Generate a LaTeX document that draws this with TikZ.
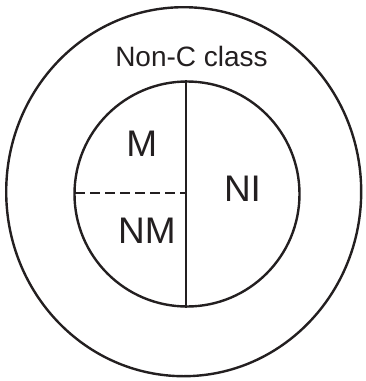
\documentclass[tikz,border=0pt]{standalone}
\usepackage{fontspec}
\setmainfont{Liberation Sans}
\usetikzlibrary{shapes.geometric}
\definecolor{ink}{HTML}{231F20}
\begin{document}
\begin{tikzpicture}[x=1pt,y=-1pt,
  ring/.style={draw=ink,line width=2.4pt},
  lbl/.style={text=ink,inner sep=0pt,anchor=center},
  big/.style={lbl,font=\fontsize{37}{37}\selectfont},
  small/.style={lbl,font=\fontsize{28}{28}\selectfont}]
\useasboundingbox (0,0) rectangle (366,381);
\node[ring,ellipse,minimum width=355pt,minimum height=369pt,inner sep=0pt] (outer) at (183.7,191.7) {};
\node[ring,circle,minimum size=225pt,inner sep=0pt] (inner) at (187,194) {};
\draw[ring] (inner.north -| 185.8,0) coordinate (top) -- (inner.south -| 185.8,0) coordinate (bot);
\coordinate (mid) at (185.8,192.7);
\draw[ring,dash pattern=on 10pt off 5pt,dash phase=-2pt] (inner.west |- mid) -- (mid);
\node[small] (title) at (191.5,56) {Non-C class};
\node[big] (M) at (141.7,144) {M};
\node[big] (NM) at (147,231) {NM};
\node[big] (NI) at (242.5,188.5) {NI};
\end{tikzpicture}
\end{document}
